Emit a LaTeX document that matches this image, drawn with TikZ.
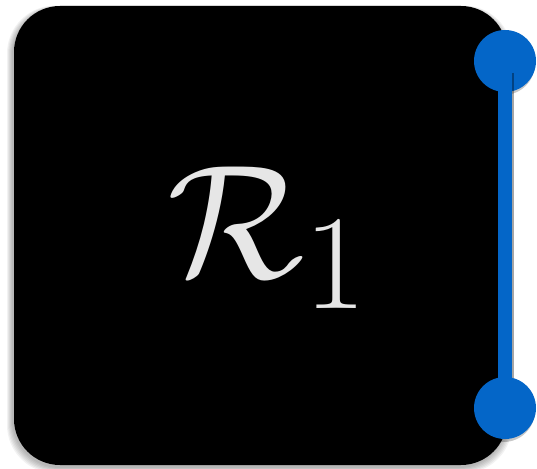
\documentclass[tikz,border=0pt]{standalone}
\definecolor{knobblue}{RGB}{4,102,200}
\definecolor{textgray}{RGB}{230,230,230}
\tikzset{
  panel/.style={fill=black, rounded corners=46pt},
  knob/.style={circle, fill=knobblue, minimum size=62pt, inner sep=0pt},
  rail/.style={knobblue, line width=13.5pt},
  softshadow/.style={fill=black, fill opacity=0.05, rounded corners=48pt}
}
\begin{document}
\begin{tikzpicture}[x=1pt,y=-1pt]
\useasboundingbox (0,0) rectangle (537,468);
\fill[white] (0,0) rectangle (537,468);
% soft shadow of the panel
\foreach \i in {1,...,6} {
  \fill[softshadow] (14-\i-1,6-0.4*\i+2) rectangle (507+\i-1,465+\i+2);
}
\fill[panel] (14,6) rectangle (507,465);
\node[text=textgray] (label) at (269,238) {\scalebox{6.5}{\Huge $\mathcal{R}_1$}};
% knobs with shadow
\foreach \y/\n in {61/ktop,408/kbot} {
  \fill[black, opacity=0.22] (505-1.5,\y+2.5) circle (31.5);
  \node[knob] (\n) at (505,\y) {};
}
\coordinate (rtop) at (505,73);
\coordinate (rbot) at (505,378);
\draw[black, opacity=0.35, line width=15pt] ([xshift=1.5pt]rtop) -- ([xshift=1.5pt]rbot);
\draw[rail] (rtop) -- (rbot);
\end{tikzpicture}
\end{document}
